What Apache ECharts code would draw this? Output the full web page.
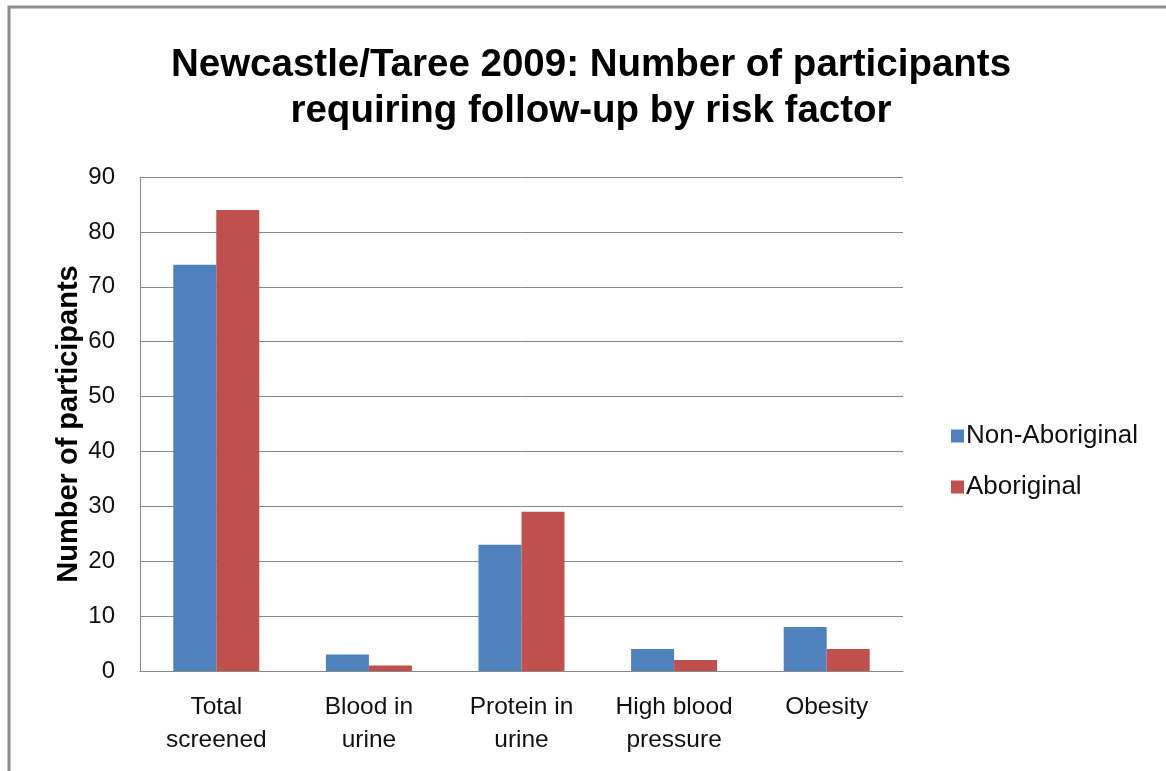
<!DOCTYPE html>
<html><head><meta charset="utf-8">
<script src="https://cdn.jsdelivr.net/npm/echarts@6/dist/echarts.min.js"></script>
<style>html,body{margin:0;padding:0;background:#fff}#c{width:1166px;height:771px}</style>
</head><body><div id="c"></div>
<script>
const categories = ['Total\nscreened', 'Blood in\nurine', 'Protein in\nurine', 'High blood\npressure', 'Obesity'];
const nonAboriginal = [74, 3, 23, 4, 8];
const aboriginal = [84, 1, 29, 2, 4];
const seriesNames = ['Non-Aboriginal', 'Aboriginal'];
const chart = echarts.init(document.getElementById('c'), null, {renderer: 'canvas'});
const font = '"Liberation Sans", Arial, sans-serif';
chart.setOption({
  animation: false,
  backgroundColor: '#fff',
  graphic: [{type: 'rect', shape: {x: 9, y: 7, width: 1180, height: 800},
    style: {fill: 'none', stroke: '#8c8c8c', lineWidth: 3}, silent: true}],
  title: {
    text: 'Newcastle/Taree 2009: Number of participants\nrequiring follow-up by risk factor',
    left: 586, top: 37, textAlign: 'center',
    textStyle: {fontFamily: font, fontSize: 38.5, fontWeight: 'bold', color: '#000', lineHeight: 46}
  },
  legend: {
    orient: 'vertical', left: 946, top: 418, itemGap: 25, itemWidth: 13, itemHeight: 13,
    icon: 'rect', data: seriesNames,
    textStyle: {fontFamily: font, fontSize: 26, color: '#111', padding: [0, 0, 0, -3]}
  },
  grid: {left: 140, right: 263, top: 177, bottom: 100, containLabel: false},
  xAxis: {
    type: 'category', data: categories,
    axisLine: {show: true, lineStyle: {color: '#888', width: 1}},
    axisTick: {show: false},
    axisLabel: {fontFamily: font, fontSize: 24.5, color: '#111', lineHeight: 33, margin: 20}
  },
  yAxis: {
    type: 'value', min: 0, max: 90, interval: 10,
    name: 'Number of participants', nameLocation: 'middle', nameGap: 57, nameRotate: 90,
    nameMoveOverlap: false,
    nameTextStyle: {fontFamily: font, fontSize: 29, fontWeight: 'bold', color: '#000'},
    axisLine: {show: true, lineStyle: {color: '#888', width: 1}},
    axisTick: {show: false},
    axisLabel: {fontFamily: font, fontSize: 24, color: '#111', margin: 25},
    splitLine: {lineStyle: {color: '#888', width: 1}}
  },
  series: [
    {name: seriesNames[0], type: 'bar', data: nonAboriginal, barWidth: 43, barGap: '0%',
     itemStyle: {color: '#4f81bd'}},
    {name: seriesNames[1], type: 'bar', data: aboriginal, barWidth: 43, barGap: '0%',
     itemStyle: {color: '#c0504d'}}
  ]
});
</script></body></html>
